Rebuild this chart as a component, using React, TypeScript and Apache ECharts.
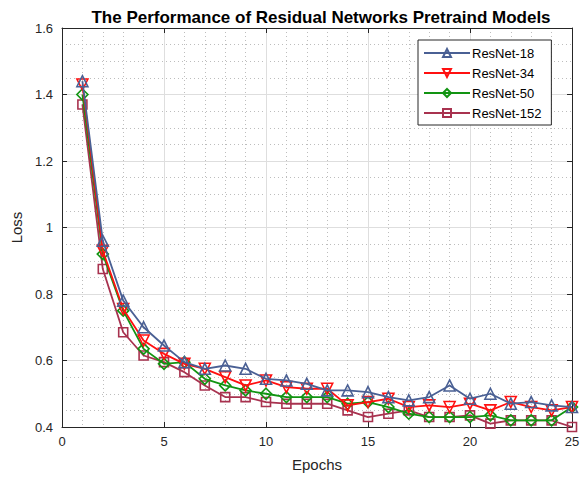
import React, { useEffect, useRef } from "react";
import * as echarts from "echarts";

const epochs = [1,2,3,4,5,6,7,8,9,10,11,12,13,14,15,16,17,18,19,20,21,22,23,24,25];
const resnet18 = [1.44,0.96,0.78,0.70,0.645,0.595,0.575,0.585,0.575,0.545,0.54,0.53,0.51,0.51,0.505,0.49,0.48,0.49,0.525,0.485,0.50,0.47,0.475,0.465,0.46];
const resnet34 = [1.43,0.93,0.755,0.66,0.62,0.59,0.575,0.55,0.525,0.54,0.52,0.515,0.515,0.465,0.475,0.485,0.46,0.465,0.46,0.47,0.45,0.475,0.46,0.45,0.46];
const resnet50 = [1.40,0.92,0.75,0.635,0.59,0.595,0.545,0.525,0.51,0.50,0.49,0.49,0.49,0.47,0.475,0.46,0.44,0.43,0.43,0.43,0.435,0.42,0.42,0.42,0.46];
const resnet152 = [1.37,0.875,0.685,0.615,0.595,0.565,0.525,0.49,0.49,0.475,0.47,0.47,0.47,0.45,0.43,0.44,0.45,0.43,0.43,0.435,0.41,0.42,0.42,0.42,0.40];
const seriesNames = ["ResNet-18", "ResNet-34", "ResNet-50", "ResNet-152"];

const FONT = "Liberation Sans, Arial, Helvetica, sans-serif";
const AXIS_COLOR = "#262626";

export default function App() {
  const ref = useRef<HTMLDivElement>(null);
  useEffect(() => {
    if (!ref.current) return;
    const chart = echarts.init(ref.current, undefined, { renderer: "svg" });
    const colors = ["#4a6094", "#ff1010", "#129412", "#a8324f"];
    const symbols = [
      "triangle",
      "path://M0,0 L10,0 L5,9 Z",
      "diamond",
      "rect",
    ];
    const sizes = [11, 11, 11, 9];
    const datas = [resnet18, resnet34, resnet50, resnet152];
    const series = datas.map((d, i) => ({
      name: seriesNames[i],
      type: "line",
      data: epochs.map((e, j) => [e, d[j]]),
      symbol: symbols[i],
      symbolSize: sizes[i],
      showAllSymbol: true,
      lineStyle: { color: colors[i], width: 1.8 },
      itemStyle: { color: "rgba(0,0,0,0)", borderColor: colors[i], borderWidth: 1.6 },
      z: 10 - i,
    }));
    const tickCommon = { show: true, inside: true, length: 5, lineStyle: { color: AXIS_COLOR } };
    chart.setOption({
      animation: false,
      backgroundColor: "#ffffff",
      title: {
        text: "The Performance of Residual Networks Pretraind Models",
        left: 316,
        textAlign: "center",
        top: 4,
        textStyle: { fontFamily: FONT, fontSize: 17, fontWeight: "bold", color: "#000" },
      },
      legend: {
        orient: "vertical",
        left: 418,
        top: 40,
        data: seriesNames,
        itemWidth: 46,
        itemHeight: 10,
        itemGap: 6,
        padding: [6, 10, 5, 5],
        borderColor: "#262626",
        borderWidth: 1,
        backgroundColor: "#fff",
        textStyle: { fontFamily: FONT, fontSize: 13, color: "#000", lineHeight: 14, padding: [0, 0, 0, -3] },
      },
      grid: { left: 62, right: 13, top: 28, bottom: 49, containLabel: false },
      xAxis: [
        {
          type: "value",
          min: 0,
          max: 25,
          interval: 5,
          name: "Epochs",
          nameLocation: "middle",
          nameGap: 30,
          nameTextStyle: { fontFamily: FONT, fontSize: 15, color: AXIS_COLOR },
          axisLine: { show: true, lineStyle: { color: AXIS_COLOR, width: 1 } },
          axisTick: tickCommon,
          axisLabel: { fontFamily: FONT, fontSize: 13, color: AXIS_COLOR, margin: 8 },
          splitLine: { show: true, lineStyle: { color: "#dedede", width: 1 } },
          minorTick: { show: false, splitNumber: 5 },
          minorSplitLine: { show: true, lineStyle: { color: "#bdbdbd", width: 1, type: [1, 3] } },
        },
        {
          type: "value",
          position: "top",
          min: 0,
          max: 25,
          interval: 5,
          axisLine: { show: true, onZero: false, lineStyle: { color: AXIS_COLOR, width: 1 } },
          axisTick: tickCommon,
          axisLabel: { show: false },
          splitLine: { show: false },
        },
      ],
      yAxis: [
        {
          type: "value",
          min: 0.4,
          max: 1.6,
          interval: 0.2,
          name: "Loss",
          nameLocation: "middle",
          nameGap: 37,
          nameRotate: 90,
          nameTextStyle: { fontFamily: FONT, fontSize: 15, color: AXIS_COLOR },
          axisLine: { show: true, lineStyle: { color: AXIS_COLOR, width: 1 } },
          axisTick: tickCommon,
          axisLabel: {
            fontFamily: FONT,
            fontSize: 13,
            color: AXIS_COLOR,
            margin: 9,
            formatter: (v: number) => String(+v.toFixed(1)),
          },
          splitLine: { show: true, lineStyle: { color: "#dedede", width: 1 } },
          minorTick: { show: false, splitNumber: 4 },
          minorSplitLine: { show: true, lineStyle: { color: "#bdbdbd", width: 1, type: [1, 3] } },
        },
        {
          type: "value",
          position: "right",
          min: 0.4,
          max: 1.6,
          interval: 0.2,
          axisLine: { show: true, onZero: false, lineStyle: { color: AXIS_COLOR, width: 1 } },
          axisTick: tickCommon,
          axisLabel: { show: false },
          splitLine: { show: false },
        },
      ],
      series,
    });
    return () => chart.dispose();
  }, []);
  return (
    <div
      ref={ref}
      style={{ position: "fixed", left: 0, top: 0, width: 585, height: 477, background: "#fff" }}
    />
  );
}
